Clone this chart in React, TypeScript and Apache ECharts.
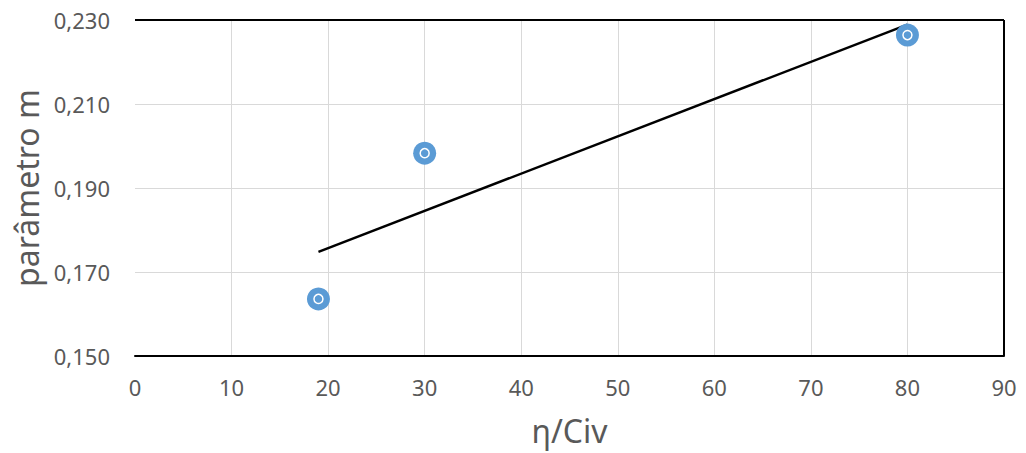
import React, { useEffect, useRef } from "react";
import * as echarts from "echarts";

const xValues = [19, 30, 80];
const yValues = [0.1636, 0.1983, 0.2264];
const trendX = [19, 80];
const trendY = [0.1748, 0.2289];
const xTicks = [0, 10, 20, 30, 40, 50, 60, 70, 80, 90];
const yTicks = [0.15, 0.17, 0.19, 0.21, 0.23];

const FONT = "Noto Sans";
const GRAY = "#595959";
const BLACK = "#000000";
const GRID = "#d9d9d9";

export default function App() {
  const ref = useRef<HTMLDivElement>(null);
  useEffect(() => {
    document.body.style.margin = "0";
    const chart = echarts.init(ref.current!, null, { renderer: "svg" });
    const points = xValues.map((x, i) => [x, yValues[i]]);
    const trend = trendX.map((x, i) => [x, trendY[i]]);
    const xMax = xTicks[xTicks.length - 1];
    const yMax = yTicks[yTicks.length - 1];
    chart.setOption({
      animation: false,
      backgroundColor: "#ffffff",
      grid: { left: 135, right: 22, top: 20, bottom: 97 },
      xAxis: {
        type: "value",
        min: xTicks[0],
        max: xMax,
        interval: 10,
        name: "η/Civ",
        nameLocation: "middle",
        nameGap: 58,
        nameTextStyle: { color: GRAY, fontSize: 32, fontFamily: FONT },
        axisLine: { show: true, onZero: false, lineStyle: { color: BLACK, width: 2 } },
        axisTick: { show: false },
        axisLabel: { color: GRAY, fontSize: 22, fontFamily: FONT, margin: 20 },
        splitLine: { show: true, showMinLine: false, lineStyle: { color: GRID, width: 1 } },
      },
      yAxis: {
        type: "value",
        min: yTicks[0],
        max: yMax,
        interval: 0.02,
        name: "parâmetro m",
        nameLocation: "middle",
        nameGap: 88,
        nameTextStyle: { color: GRAY, fontSize: 32, fontFamily: FONT },
        axisLine: { show: false },
        axisTick: { show: false },
        axisLabel: {
          color: GRAY,
          fontSize: 22,
          fontFamily: FONT,
          margin: 25,
          formatter: (v: number) => v.toFixed(3).replace(".", ","),
        },
        splitLine: { show: true, lineStyle: { color: GRID, width: 1 } },
      },
      series: [
        {
          type: "line",
          data: trend,
          showSymbol: false,
          symbol: "none",
          lineStyle: { color: BLACK, width: 2.5 },
          z: 3,
          markLine: {
            silent: true,
            symbol: "none",
            label: { show: false },
            lineStyle: { color: BLACK, width: 2, type: "solid" },
            data: [{ xAxis: xMax }, { yAxis: yMax }],
          },
        },
        {
          type: "scatter",
          data: points,
          symbol: "circle",
          symbolSize: 23,
          itemStyle: { color: "#5B9BD5", opacity: 1 },
          z: 4,
        },
        {
          type: "scatter",
          data: points,
          symbol: "circle",
          symbolSize: 9,
          itemStyle: { color: "#5B9BD5", borderColor: "#ffffff", borderWidth: 1.5, opacity: 1 },
          z: 5,
        },
      ],
    });
    return () => chart.dispose();
  }, []);
  return <div ref={ref} style={{ width: 1026, height: 453 }} />;
}
